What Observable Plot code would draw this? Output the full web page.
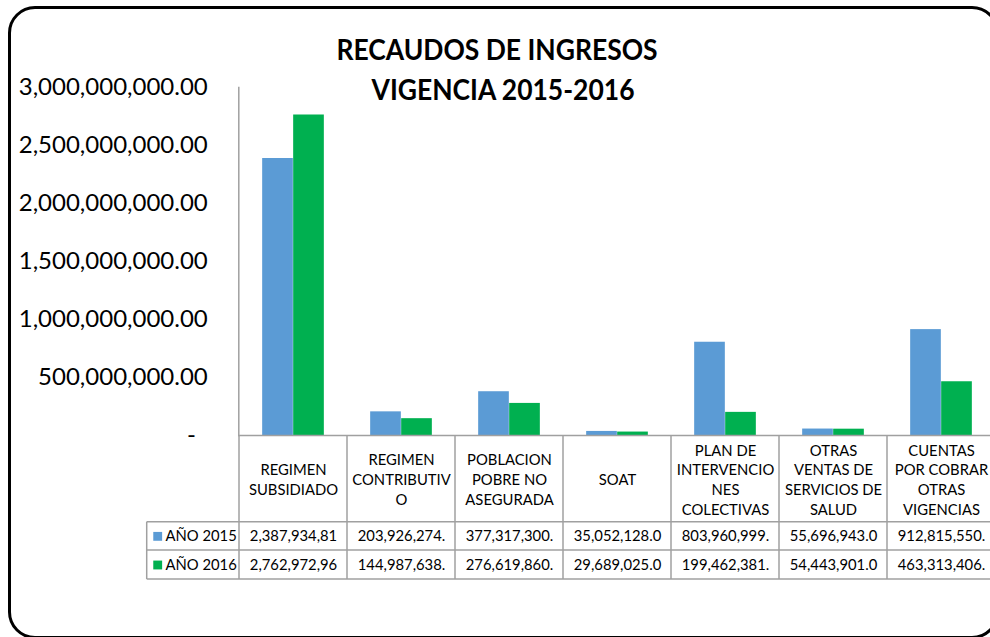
<!DOCTYPE html>
<html>
<head>
<meta charset="utf-8">
<script src="https://cdn.jsdelivr.net/npm/d3@7"></script>
<script src="https://cdn.jsdelivr.net/npm/@observablehq/plot@0.6"></script>
<style>
  html, body { margin: 0; padding: 0; background: #fff; overflow: hidden; }
  #wrap { position: relative; width: 990px; height: 637px; overflow: hidden; font-family: Lato, "Open Sans", sans-serif; }
  #chart { position: absolute; left: 0; top: 0; }
  .title { position: absolute; font-weight: bold; font-size: 28px; color: #000; white-space: nowrap; transform: translate(-50%, -50%) scaleX(0.945); line-height: 1; }
  #border { position: absolute; left: 7.5px; top: 5.5px; width: 991px; height: 633px; box-sizing: border-box; border: 3px solid #000; border-radius: 27px; pointer-events: none; }
</style>
</head>
<body>
<div id="wrap">
  <div id="chart"></div>
  <div class="title" style="left:497px; top:49px;">RECAUDOS DE INGRESOS</div>
  <div class="title" style="left:503px; top:89px;">VIGENCIA 2015-2016</div>
  <div id="border"></div>
</div>
<script>
// ---- data ----
const categories = [
  "REGIMEN SUBSIDIADO",
  "REGIMEN CONTRIBUTIVO",
  "POBLACION POBRE NO ASEGURADA",
  "SOAT",
  "PLAN DE INTERVENCIONES COLECTIVAS",
  "OTRAS VENTAS DE SERVICIOS DE SALUD",
  "CUENTAS POR COBRAR OTRAS VIGENCIAS"
];
const categoryLabels = [
  "REGIMEN\nSUBSIDIADO",
  "REGIMEN\nCONTRIBUTIV\nO",
  "POBLACION\nPOBRE NO\nASEGURADA",
  "SOAT",
  "PLAN DE\nINTERVENCIO\nNES\nCOLECTIVAS",
  "OTRAS\nVENTAS DE\nSERVICIOS DE\nSALUD",
  "CUENTAS\nPOR COBRAR\nOTRAS\nVIGENCIAS"
];
const seriesNames = ["AÑO 2015", "AÑO 2016"];
const values2015 = [2387934810, 203926274, 377317300, 35052128, 803960999, 55696943, 912815550];
const values2016 = [2762972960, 144987638, 276619860, 29689025, 199462381, 54443901, 463313406];
const yTicks = [0, 500000000, 1000000000, 1500000000, 2000000000, 2500000000, 3000000000];
const colors = ["#5B9BD5", "#00B050"];

// ---- build ----
const rows2015 = categories.map((c, i) => ({cat: c, value: values2015[i]}));
const rows2016 = categories.map((c, i) => ({cat: c, value: values2016[i]}));
const fmt = d3.format(",.2f");
const cellText = v => fmt(v).slice(0, 12);

const W = 990, H = 637;
const plotLeft = 238.3, plotRight = 996.6, plotTop = 87, base = 435;
const bw = (plotRight - plotLeft) / categories.length;
const barW = 31;
const pad = (bw - 2 * barW) / 2;

const headerBottom = 521.7, row1Bottom = 550, row2Bottom = 579, legendLeft = 146.7;
const row1Mid = (headerBottom + row1Bottom) / 2 - base;
const row2Mid = (row1Bottom + row2Bottom) / 2 - base;
const tableFont = 14.8;

const chart = Plot.plot({
  width: W,
  height: H,
  marginLeft: plotLeft,
  marginRight: 0,
  marginTop: plotTop,
  marginBottom: H - base,
  style: {fontFamily: "Lato, 'Open Sans', sans-serif", color: "#000", background: "transparent", overflow: "visible"},
  x: {type: "band", domain: categories, range: [plotLeft, plotRight], padding: 0, axis: null},
  y: {domain: [0, 3000000000], axis: null},
  marks: [
    Plot.barY(rows2015, {x: "cat", y: "value", fill: colors[0], insetLeft: pad, insetRight: bw - pad - barW}),
    Plot.barY(rows2016, {x: "cat", y: "value", fill: colors[1], insetLeft: pad + barW, insetRight: pad}),
    Plot.axisY({ticks: yTicks, tickSize: 0, tickPadding: 31, fontSize: 24, label: null,
      tickFormat: d => d === 0 ? "-\u2002" : fmt(d)}),
    Plot.frame({anchor: "left", stroke: "#a0a0a0", strokeWidth: 1.5}),
    Plot.ruleY([0], {stroke: "#a0a0a0", strokeWidth: 1.5}),
    // data table: category header
    Plot.text(categories, {x: d => d, text: (d, i) => categoryLabels[i], frameAnchor: "bottom",
      dy: (headerBottom - base) / 2, lineAnchor: "middle", lineHeight: 1.33, fontSize: tableFont, fill: "#000"}),
    // data table: values
    Plot.text(rows2015, {x: "cat", text: d => cellText(d.value), frameAnchor: "bottom",
      dy: row1Mid, lineAnchor: "middle", fontSize: tableFont, fill: "#000"}),
    Plot.text(rows2016, {x: "cat", text: d => cellText(d.value), frameAnchor: "bottom",
      dy: row2Mid, lineAnchor: "middle", fontSize: tableFont, fill: "#000"}),
    // legend keys inside the table
    Plot.dot([seriesNames[0]], {frameAnchor: "bottom-left", dx: 157.2 - plotLeft, dy: row1Mid,
      symbol: "square", r: 5, fill: colors[0], stroke: null}),
    Plot.dot([seriesNames[1]], {frameAnchor: "bottom-left", dx: 157.2 - plotLeft, dy: row2Mid,
      symbol: "square", r: 5, fill: colors[1], stroke: null}),
    Plot.text([seriesNames[0]], {text: d => d, frameAnchor: "bottom-left", dx: 165 - plotLeft, dy: row1Mid,
      textAnchor: "start", lineAnchor: "middle", fontSize: tableFont, fill: "#000"}),
    Plot.text([seriesNames[1]], {text: d => d, frameAnchor: "bottom-left", dx: 165 - plotLeft, dy: row2Mid,
      textAnchor: "start", lineAnchor: "middle", fontSize: tableFont, fill: "#000"})
  ]
});
document.getElementById("chart").appendChild(chart);

// table grid lines, positioned with Plot's own x and y scales
const xs = chart.scale("x");
const ys = chart.scale("y");
const y0 = ys.apply(0);
const g = d3.select(chart).append("g").attr("stroke", "#a0a0a0").attr("stroke-width", 1.5).attr("fill", "none");
categories.forEach(c => {
  const x = xs.apply(c);
  g.append("line").attr("x1", x).attr("x2", x).attr("y1", y0).attr("y2", row2Bottom);
});
const xEnd = xs.apply(categories[categories.length - 1]) + xs.bandwidth;
g.append("line").attr("x1", xEnd).attr("x2", xEnd).attr("y1", y0).attr("y2", row2Bottom);
[headerBottom, row1Bottom, row2Bottom].forEach(y => {
  g.append("line").attr("x1", legendLeft).attr("x2", xEnd).attr("y1", y).attr("y2", y);
});
g.append("line").attr("x1", legendLeft).attr("x2", legendLeft).attr("y1", headerBottom).attr("y2", row2Bottom);
</script>
</body>
</html>
